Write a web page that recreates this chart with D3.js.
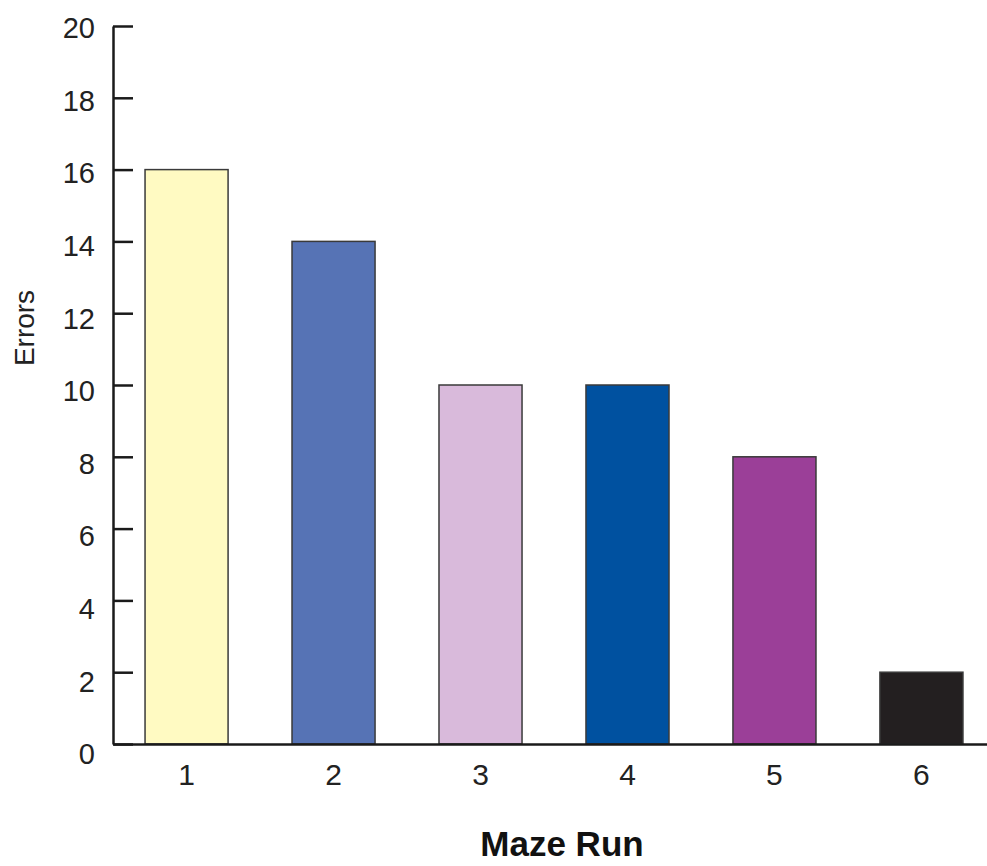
<!DOCTYPE html>
<html>
<head>
<meta charset="utf-8">
<script src="https://cdn.jsdelivr.net/npm/d3@7"></script>
<style>
    body { margin: 0; background: #fff; }
    svg { display: block; font-family: "Liberation Sans", Arial, Helvetica, sans-serif; }
</style>
</head>
<body>
<div id="chart"></div>
<script>
// data
var runs = ['1', '2', '3', '4', '5', '6'];
var errors = [16, 14, 10, 10, 8, 2];
var barColors = ['#fffac2', '#5673b5', '#d9badb', '#0051a0', '#9b3f98', '#231f20'];
var yTicks = [0, 2, 4, 6, 8, 10, 12, 14, 16, 18, 20];

var width = 987, height = 866,
    plotLeft = 113, plotBase = 744, plotTop = 26;

var svg = d3.select('#chart').append('svg')
    .attr('width', width)
    .attr('height', height);

var x = d3.scaleBand()
    .domain(runs)
    .range([plotLeft, plotLeft + 6 * 147])
    .paddingInner(0.435)
    .paddingOuter(0.218);

var y = d3.scaleLinear()
    .domain([0, 20])
    .range([plotBase, plotTop]);

// bars
svg.append('g').selectAll('rect')
    .data(runs)
    .enter().append('rect')
    .attr('x', function(d) { return x(d); })
    .attr('y', function(d, i) { return y(errors[i]); })
    .attr('width', x.bandwidth())
    .attr('height', function(d, i) { return plotBase - y(errors[i]); })
    .attr('fill', function(d, i) { return barColors[i]; })
    .attr('stroke', '#3a3a3a')
    .attr('stroke-width', 1.5);

// y axis, ticks pointing inward
var yAxis = svg.append('g')
    .attr('transform', 'translate(' + plotLeft + ',0)')
    .call(d3.axisLeft(y).tickValues(yTicks).tickSizeInner(-20).tickSizeOuter(0).tickPadding(18));

yAxis.select('.domain').attr('stroke', '#1a1a1a').attr('stroke-width', 2.5);
yAxis.selectAll('.tick line').attr('stroke', '#1a1a1a').attr('stroke-width', 2.5);
yAxis.selectAll('.tick text')
    .attr('font-size', 29)
    .attr('fill', '#222')
    .attr('dy', function(d) { return (4 + (20 - d) * 0.4) + 'px'; })
    .attr('dominant-baseline', 'middle');

// x axis, no ticks
var xAxis = svg.append('g')
    .attr('transform', 'translate(0,' + plotBase + ')')
    .call(d3.axisBottom(x).tickSize(0).tickPadding(20));

xAxis.select('.domain').attr('stroke', '#1a1a1a').attr('stroke-width', 2.5);
xAxis.selectAll('.tick text')
    .attr('font-size', 30)
    .attr('fill', '#222');

// axis titles
svg.append('text')
    .attr('transform', 'translate(34,328) rotate(-90)')
    .attr('text-anchor', 'middle')
    .attr('font-size', 28)
    .attr('fill', '#222')
    .text('Errors');

svg.append('text')
    .attr('x', 562)
    .attr('y', 856)
    .attr('text-anchor', 'middle')
    .attr('font-size', 35)
    .attr('font-weight', 'bold')
    .attr('fill', '#111')
    .text('Maze Run');
</script>
</body>
</html>
